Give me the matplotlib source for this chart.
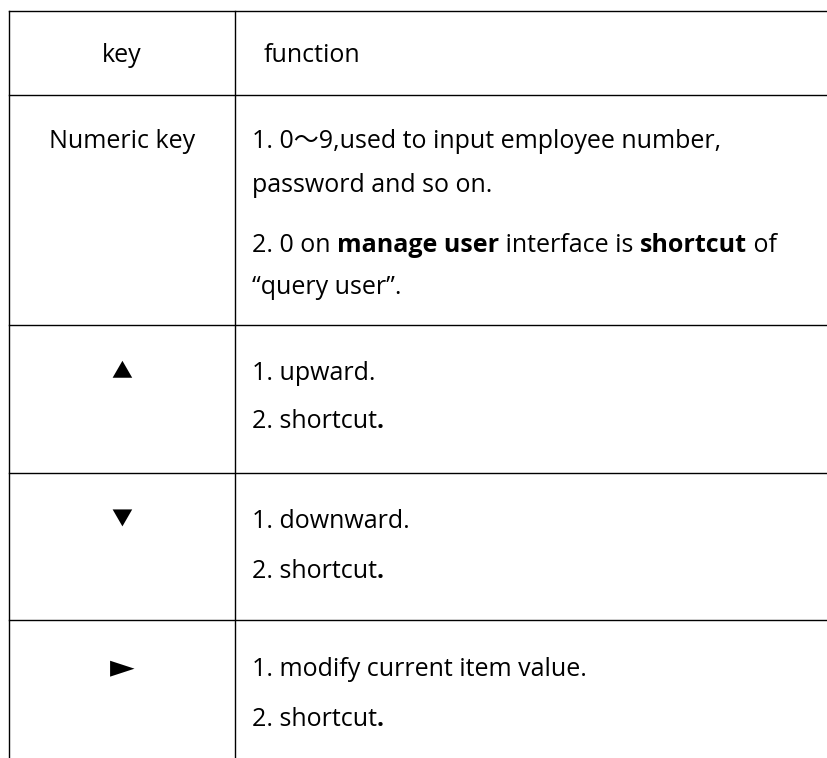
import matplotlib
matplotlib.use('Agg')
import matplotlib.pyplot as plt

plt.rcParams['font.family'] = ['Open Sans', 'DejaVu Sans', 'Noto Sans CJK SC']

header = ['key', 'function']
keys = ['Numeric key', '\u25b2', '\u25bc', '\u25ba']
key_sizes = [18, 15, 15, 23]
# each function line is a list of (text, bold) pieces
functions = [
    [[('1. 0\uff5e9,used to input employee number,', False)],
     [('password and so on.', False)],
     [('2. 0 on ', False), ('manage user', True), (' interface is ', False),
      ('shortcut', True), (' of', False)],
     [('\u201cquery user\u201d.', False)]],
    [[('1. upward.', False)],
     [('2. shortcut', False), ('.', True)]],
    [[('1. downward.', False)],
     [('2. shortcut', False), ('.', True)]],
    [[('1. modify current item value.', False)],
     [('2. shortcut', False), ('.', True)]],
]

W, H = 828, 758
fig = plt.figure(figsize=(W / 100, H / 100), dpi=100)
ax = fig.add_axes([0, 0, 1, 1])
ax.set_xlim(0, W)
ax.set_ylim(H, 0)
ax.axis('off')

x_left, x_mid = 9.5, 235.5
row_lines = [10.5, 94.5, 324.5, 472.5, 619.5]
lw = 1.0
for y in row_lines:
    ax.plot([x_left, W], [y, y], color='black', lw=lw)
ax.plot([x_left, x_left], [row_lines[0], H], color='black', lw=lw)
ax.plot([x_mid, x_mid], [row_lines[0], H], color='black', lw=lw)

fs = 18
ax.text(122, 53, header[0], ha='center', va='center_baseline', fontsize=fs)
ax.text(264, 53, header[1], ha='left', va='center_baseline', fontsize=fs)

# vertical placement of lines in each row
line_y = [[138, 182, 242, 285], [371, 419], [519, 568], [667, 716]]
renderer = fig.canvas.get_renderer()
for i, key in enumerate(keys):
    if i == 0:
        ax.text(122, line_y[i][0], key, ha='center', va='center_baseline', fontsize=fs)
    else:
        ax.text(122, line_y[i][0], key, ha='center', va='center', fontsize=key_sizes[i],
                family=['Noto Sans CJK SC', 'DejaVu Sans'])
    for j, pieces in enumerate(functions[i]):
        x = 252
        for txt, bold in pieces:
            t = ax.text(x, line_y[i][j], txt, ha='left', va='center_baseline',
                        fontsize=fs, fontweight='bold' if bold else 'normal')
            bb = t.get_window_extent(renderer)
            x = ax.transData.inverted().transform((bb.x1, 0))[0]

fig.savefig('out.png', dpi=100)
